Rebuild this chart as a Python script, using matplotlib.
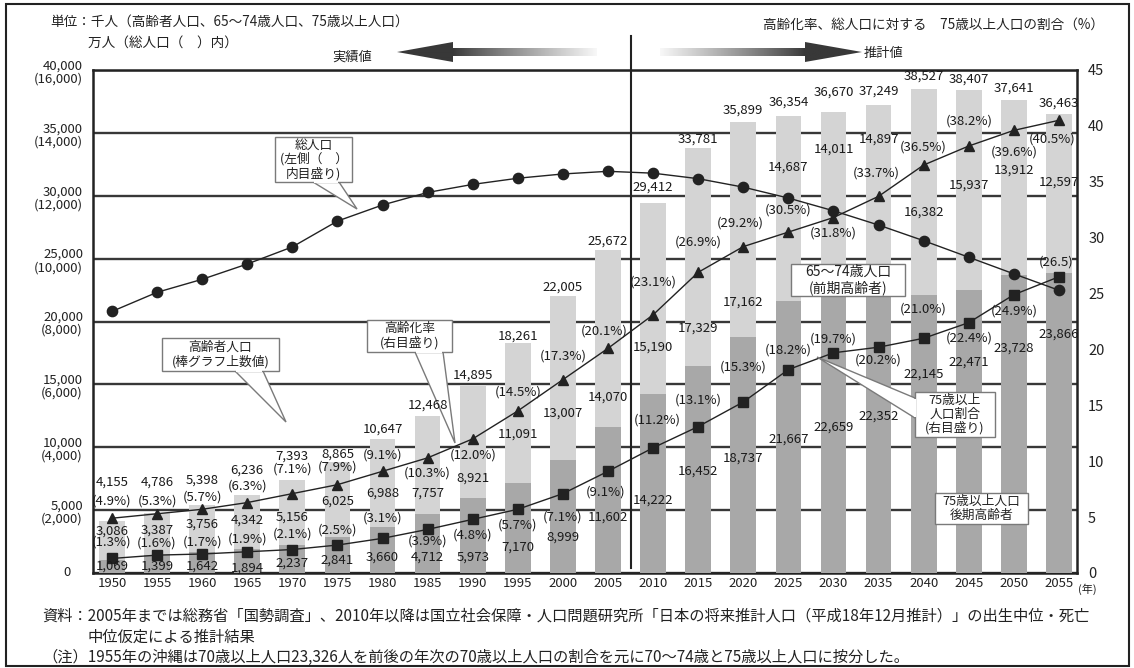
import numpy as np
import matplotlib
matplotlib.use("Agg")
import matplotlib.pyplot as plt
from matplotlib.patches import Polygon, Rectangle
from matplotlib.transforms import blended_transform_factory

plt.rcParams['font.family'] = ['Noto Sans CJK JP', 'DejaVu Sans']

# ---------------- data ----------------
years = [1950, 1955, 1960, 1965, 1970, 1975, 1980, 1985, 1990, 1995, 2000,
         2005, 2010, 2015, 2020, 2025, 2030, 2035, 2040, 2045, 2050, 2055]
# thousand persons
elderly_total = [4155, 4786, 5398, 6236, 7393, 8865, 10647, 12468, 14895, 18261, 22005,
                 25672, 29412, 33781, 35899, 36354, 36670, 37249, 38527, 38407, 37641, 36463]
age65_74 = [3086, 3387, 3756, 4342, 5156, 6025, 6988, 7757, 8921, 11091, 13007,
            14070, 15190, 17329, 17162, 14687, 14011, 14897, 16382, 15937, 13912, 12597]
age75_plus = [1069, 1399, 1642, 1894, 2237, 2841, 3660, 4712, 5973, 7170, 8999,
              11602, 14222, 16452, 18737, 21667, 22659, 22352, 22145, 22471, 23728, 23866]
# ten-thousand persons
total_pop = [8320, 8928, 9342, 9828, 10372, 11194, 11706, 12105, 12361, 12557, 12693,
             12777, 12718, 12543, 12274, 11927, 11522, 11068, 10570, 10044, 9515, 8993]
# percent
aging_rate = [4.9, 5.3, 5.7, 6.3, 7.1, 7.9, 9.1, 10.3, 12.0, 14.5, 17.3,
              20.1, 23.1, 26.9, 29.2, 30.5, 31.8, 33.7, 36.5, 38.2, 39.6, 40.5]
rate75 = [1.3, 1.6, 1.7, 1.9, 2.1, 2.5, 3.1, 3.9, 4.8, 5.7, 7.1,
          9.1, 11.2, 13.1, 15.3, 18.2, 19.7, 20.2, 21.0, 22.4, 24.9, 26.5]

# label offsets in pixels (up positive)
tot_dy = [39, 31, 25, 24, 24, 7, 10, 11, 11, 7, 9, 9, 16, 9, 11, 14, 20, 13, 12, 11, 12, 11]
mid_dy = [-10, -17, -19, -26, -37, -40, -54, -77, -92, -91, -117, -147, -144, -180, -181,
          -51, -37, -35, -124, -95, -70, -68]
low_dy = [-7, -11, -14, -19, -18, -23, -30, -43, -59, -64, -77, -90, -106, -105, -121,
          -139, -139, -124, -80, -72, -74, -61]
rate_dy = [17, 13, 12, 17, 25, 18, 16, -15, -16, 19, 24, 17, 33, 30, 24, 22, -15, 23, 18, 25, -22, -19]
rate_dx = [0] * 22
rate_dx[11], rate_dx[14], rate_dx[17], rate_dx[21] = -4, -3, -2, -7
r75_dy = [16, 12, 12, 13, 15, 15, 20, -12, -16, -16, -23, -21, 28, 27, 35, 20, 14, -13, 29, -15, -16, 15]
r75_dx = [0] * 22
r75_dx[11], r75_dx[12], r75_dx[21] = -2, 4, -3

W, H = 1134, 668
fig = plt.figure(figsize=(W / 100, H / 100), dpi=100)
fig.patch.set_facecolor('white')

L, R, T, B = 93, 1077, 70, 573
ax = fig.add_axes([L / W, 1 - B / H, (R - L) / W, (B - T) / H])
x = np.arange(len(years))

LIGHT = '#d4d4d4'
DARK = '#a8a8a8'
ax.bar(x, elderly_total, width=0.57, color=LIGHT, zorder=2)
ax.bar(x, age75_plus, width=0.57, color=DARK, zorder=3)
ax.set_xlim(-0.42, 21.40)
ax.set_ylim(0, 40000)
ax.set_yticks(range(0, 40001, 5000))
ax.set_yticklabels([])
ax.yaxis.grid(True, color='#383838', lw=1.7)
ax.set_axisbelow(True)
ax.set_xticks(x)
ax.set_xticklabels([str(y) for y in years], fontsize=9.5, color='#222')
ax.tick_params(axis='both', length=0)
ax.tick_params(axis='x', pad=3)
for s in ax.spines.values():
    s.set_linewidth(1.8)
    s.set_color('#222')

# left tick labels: thousand persons with total population (ten-thousand) below
ltr = blended_transform_factory(ax.transAxes, ax.transData)
for v in range(0, 40001, 5000):
    if v == 0:
        ax.annotate('0', xy=(0, v), xycoords=ltr, xytext=(-22, 0), textcoords='offset pixels',
                    ha='right', va='center', fontsize=9.5, color='#222')
        continue
    ax.annotate(f'{v:,}', xy=(0, v), xycoords=ltr, xytext=(-10, 4), textcoords='offset pixels',
                ha='right', va='center', fontsize=9.5, color='#222')
    ax.annotate(f'({int(v * 0.4):,})', xy=(0, v), xycoords=ltr, xytext=(-10, -9),
                textcoords='offset pixels', ha='right', va='center', fontsize=9.5, color='#222')

# right axis: percentages
ax2 = ax.twinx()
ax2.set_ylim(0, 45)
ax2.set_yticks(range(0, 46, 5))
ax2.tick_params(axis='y', length=0, pad=8, labelsize=10.5, labelcolor='#222')
for s in ax2.spines.values():
    s.set_visible(False)
ax2.plot(x, aging_rate, color='#222', lw=1, marker='^', ms=7.5, zorder=5)
ax2.plot(x, rate75, color='#222', lw=1, marker='s', ms=6.5, zorder=5)

# hidden axis for total population (ten-thousand persons)
ax3 = ax.twinx()
ax3.set_ylim(0, 16000)
ax3.set_yticks([])
for s in ax3.spines.values():
    s.set_visible(False)
ax3.plot(x, total_pop, color='#222', lw=1, marker='o', ms=7.4, zorder=5)

# divider between census results and projections
dtr = blended_transform_factory(ax.transData, ax.transAxes)
ax.plot([11.5, 11.5], [0.01, (B - 36) / (B - T)], transform=dtr, color='#222', lw=1.5,
        clip_on=False, zorder=6)

# ---------------- overlay in pixel coordinates ----------------
ov = fig.add_axes([0, 0, 1, 1], zorder=10)
ov.set_xlim(0, W)
ov.set_ylim(H, 0)
ov.axis('off')
ov.patch.set_visible(False)

ov.add_patch(Rectangle((6, 4), 1123, 662, fill=False, ec='#222', lw=1.5))

def grad_arrow(tip, base, tail, yc, hh=10, sh=4, dark=0.22, light=0.97):
    verts = [(tip, yc), (base, yc - hh), (base, yc - sh), (tail, yc - sh),
             (tail, yc + sh), (base, yc + sh), (base, yc + hh)]
    poly = Polygon(verts, closed=True, fc='none', ec='none')
    ov.add_patch(poly)
    xs = np.linspace(min(tip, tail), max(tip, tail), 400)
    t = np.clip((xs - base) / (tail - base), 0, 1)
    g = dark + (light - dark) * t ** 0.9
    im = ov.imshow(g[np.newaxis, :], cmap='gray', vmin=0, vmax=1,
                   extent=(xs[0], xs[-1], yc + hh, yc - hh), aspect='auto',
                   interpolation='bilinear', zorder=5)
    im.set_clip_path(poly)

grad_arrow(397, 453, 597, 52)
grad_arrow(862, 805, 660, 52)
ov.set_xlim(0, W)
ov.set_ylim(H, 0)

ov.text(352, 57, '実績値', ha='center', va='center', fontsize=9.5, color='#222')
ov.text(883, 53, '推計値', ha='center', va='center', fontsize=9.5, color='#222')

ov.text(50, 22, '単位：千人（高齢者人口、65～74歳人口、75歳以上人口）', ha='left', va='center',
        fontsize=9.8, color='#222')
ov.text(88, 43, '万人（総人口（　）内）', ha='left', va='center', fontsize=9.8, color='#222')
ov.text(1104, 25, '高齢化率、総人口に対する　75歳以上人口の割合（%）', ha='right', va='center',
        fontsize=9.8, color='#222')
ov.text(1087, 589, '(年)', ha='center', va='center', fontsize=8, color='#222')

EC = '#7a7a7a'
def callout(box, text, fs=9.2, tip=None, base=None, ls=1.1):
    x0, y0, x1, y1 = box
    if tip is not None:
        ov.add_patch(Polygon([base[0], tip, base[1]], closed=True, fc='white', ec=EC, lw=1, zorder=20))
    ov.add_patch(Rectangle((x0, y0), x1 - x0, y1 - y0, fc='white', ec=EC, lw=1, zorder=21))
    if tip is not None:
        (bx0, by0), (bx1, by1) = base
        if by0 == by1:
            ov.plot([bx0 + 1.2, bx1 - 1.2], [by0, by1], color='white', lw=1.6, zorder=22,
                    solid_capstyle='butt')
        else:
            ov.plot([bx0, bx1], [by0 + 1.2, by1 - 1.2], color='white', lw=1.6, zorder=22,
                    solid_capstyle='butt')
    ov.text((x0 + x1) / 2, (y0 + y1) / 2, text, ha='center', va='center', fontsize=fs,
            linespacing=ls, color='#222', zorder=23)

callout((275, 137, 352, 182), '総人口\n(左側（　）\n内目盛り)', tip=(357, 209),
        base=[(313, 182), (339, 182)])
callout((162, 338, 279, 371), '高齢者人口\n(棒グラフ上数値)', tip=(286, 422),
        base=[(235, 371), (263, 371)])
callout((367, 320, 452, 352), '高齢化率\n(右目盛り)', tip=(455, 443),
        base=[(415, 352), (443, 352)])
callout((791, 264, 905, 296), '65～74歳人口\n(前期高齢者)', fs=10)
callout((915, 392, 995, 437), '75歳以上\n人口割合\n(右目盛り)', tip=(817, 357),
        base=[(915, 398), (915, 418)], ls=1.05)
callout((935, 493, 1028, 524), '75歳以上人口\n後期高齢者')

# value labels, drawn above the callout pointers
FS = 9.5
def lab(text, xi, yv, trans, dx, dy):
    ov.annotate(text, xy=(xi, yv), xycoords=trans, xytext=(dx, dy), textcoords='offset pixels',
                ha='center', va='center', fontsize=FS, color='#1a1a1a', zorder=30)

for i in range(len(years)):
    lab(f'{elderly_total[i]:,}', i, elderly_total[i], ax.transData, 0, tot_dy[i])
    lab(f'{age65_74[i]:,}', i, elderly_total[i], ax.transData, 0, mid_dy[i])
    lab(f'{age75_plus[i]:,}', i, age75_plus[i], ax.transData, 0, low_dy[i])
    lab(f'({aging_rate[i]:.1f}%)', i, aging_rate[i], ax2.transData, rate_dx[i], rate_dy[i])
    t75 = f'({rate75[i]:.1f})' if i == len(years) - 1 else f'({rate75[i]:.1f}%)'
    lab(t75, i, rate75[i], ax2.transData, r75_dx[i], r75_dy[i])

# sources and notes
ov.text(42, 616, '資料：2005年までは総務省「国勢調査」、2010年以降は国立社会保障・人口問題研究所'
        '「日本の将来推計人口（平成18年12月推計）」の出生中位・死亡',
        ha='left', va='center', fontsize=11, color='#222')
ov.text(88, 637, '中位仮定による推計結果', ha='left', va='center', fontsize=11, color='#222')
ov.text(42, 657, '（注）1955年の沖縄は70歳以上人口23,326人を前後の年次の70歳以上人口の割合を元に'
        '70～74歳と75歳以上人口に按分した。', ha='left', va='center', fontsize=11, color='#222')

fig.savefig('out.png', dpi=100, facecolor='white')
